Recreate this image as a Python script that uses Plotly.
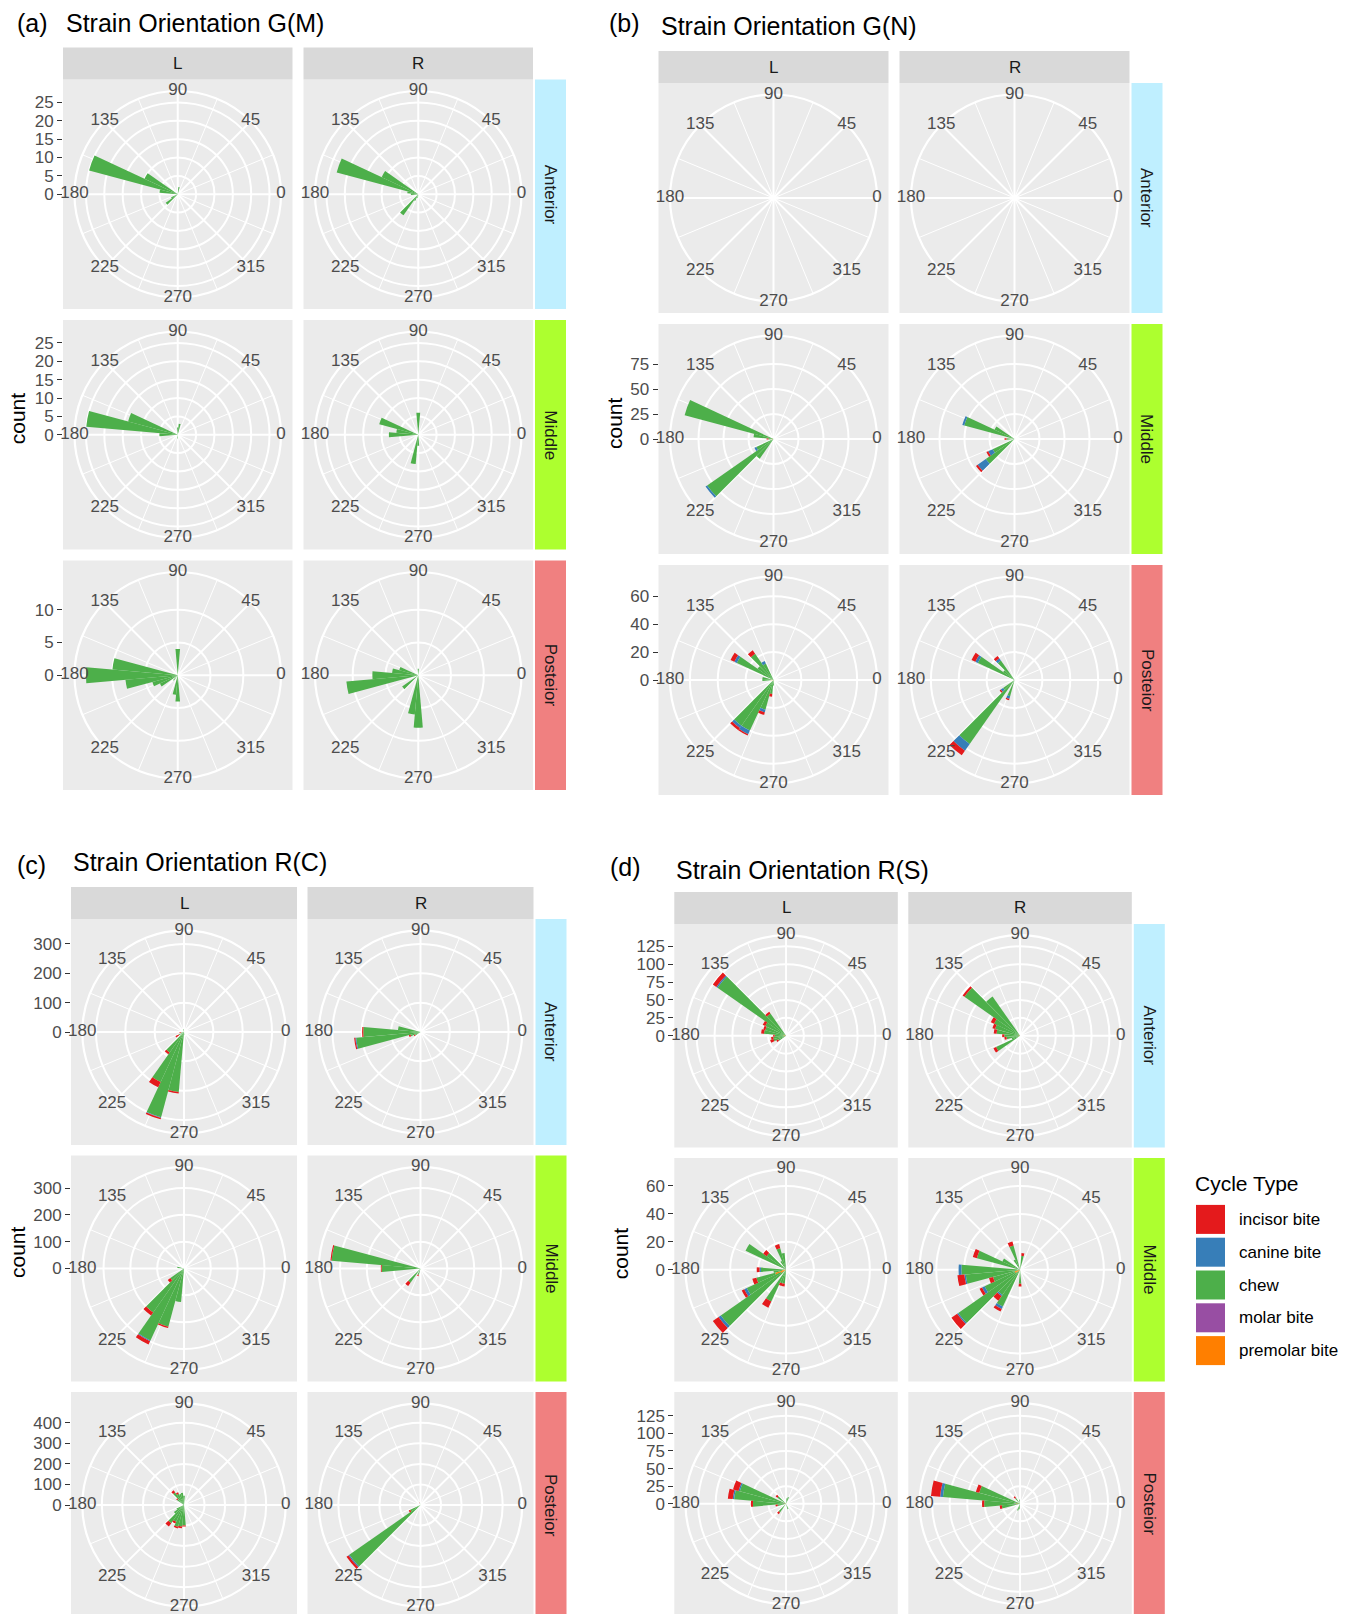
import plotly.graph_objects as go

# ---------------------------------------------------------------- data
CYCLE_TYPES = ["incisor bite", "canine bite", "chew", "molar bite", "premolar bite"]
CYCLE_COLORS = ["#E41A1C", "#377EB8", "#4DAF4A", "#984EA3", "#FF7F00"]
ANGLE_BREAKS = [0, 45, 90, 135, 180, 225, 270, 315]
ANGLE_MINOR = [22.5, 67.5, 112.5, 157.5, 202.5, 247.5, 292.5, 337.5]
BIN_WIDTH = 10
SIDES = ["L", "R"]
REGIONS = ["Anterior", "Middle", "Posteior"]

# each entry: (bin centre deg, incisor, canine, chew, molar, premolar)
GM_ANT_L = [(80, 0, 0, 2, 0, 0), (150, 0, 0, 10, 0, 0), (160, 0, 0, 25, 0, 0),
            (170, 0, 0, 5, 0, 0), (210, 0, 0, 2, 0, 0), (220, 0, 0, 4, 0, 0)]
GM_ANT_R = [(150, 0, 0, 11, 0, 0), (160, 0, 0, 23, 0, 0), (170, 0, 0, 3, 0, 0),
            (180, 0, 0, 2, 0, 0), (230, 0, 0, 7, 0, 0), (240, 0, 0, 2, 0, 0),
            (260, 0, 0, 1, 0, 0)]
GM_MID_L = [(80, 0, 0, 3, 0, 0), (90, 0, 0, 2, 0, 0), (160, 0, 0, 14, 0, 0),
            (170, 0, 0, 25, 0, 0), (180, 0, 0, 5, 0, 0), (270, 0, 0, 1, 0, 0)]
GM_MID_R = [(90, 0, 0, 6, 0, 0), (160, 0, 0, 11, 0, 0), (170, 0, 0, 6, 0, 0),
            (180, 0, 0, 8, 0, 0), (260, 0, 0, 8, 0, 0), (270, 0, 0, 3, 0, 0)]
GM_POST_L = [(90, 0, 0, 4, 0, 0), (170, 0, 0, 10, 0, 0), (180, 0, 0, 14, 0, 0),
             (190, 0, 0, 8, 0, 0), (200, 0, 0, 4, 0, 0), (210, 0, 0, 3, 0, 0),
             (230, 0, 0, 1, 0, 0), (260, 0, 0, 3, 0, 0), (270, 0, 0, 4, 0, 0)]
GM_POST_R = [(90, 0, 0, 1, 0, 0), (160, 0, 0, 3, 0, 0), (170, 0, 0, 4, 0, 0),
             (180, 0, 0, 7, 0, 0), (190, 0, 0, 11, 0, 0), (220, 0, 0, 3, 0, 0),
             (260, 0, 0, 6, 0, 0), (270, 0, 0, 8, 0, 0)]

GN_ANT_L = []
GN_ANT_R = []
GN_MID_L = [(160, 0, 0, 92, 0, 0), (170, 0, 0, 20, 0, 0), (180, 2, 0, 3, 0, 2),
            (210, 0, 2, 19, 0, 0), (220, 0, 2, 81, 0, 0), (230, 0, 0, 24, 0, 0)]
GN_MID_R = [(150, 0, 0, 22, 0, 0), (160, 0, 2, 52, 0, 0), (180, 2, 0, 8, 0, 0),
            (210, 2, 5, 24, 0, 0), (220, 2, 10, 35, 0, 0)]
GN_POST_L = [(120, 0, 2, 13, 0, 0), (130, 3, 0, 23, 0, 0), (140, 0, 0, 14, 0, 0),
             (150, 3, 2, 29, 0, 0), (170, 0, 0, 8, 0, 0), (180, 0, 0, 6, 0, 2),
             (230, 2, 2, 40, 0, 0), (240, 1, 3, 40, 0, 0), (250, 2, 2, 22, 0, 0),
             (260, 2, 0, 10, 0, 0), (270, 0, 0, 3, 0, 1)]
GN_POST_R = [(130, 2, 2, 17, 0, 0), (140, 0, 0, 10, 0, 0), (150, 3, 2, 29, 0, 0),
             (220, 1, 2, 10, 0, 0), (230, 4, 6, 56, 0, 0), (250, 1, 2, 12, 0, 0)]

RC_ANT_L = [(100, 0, 0, 10, 0, 0), (190, 6, 0, 10, 0, 0), (210, 12, 0, 20, 0, 0),
            (230, 8, 0, 85, 0, 0), (240, 20, 0, 188, 0, 0), (250, 5, 2, 301, 0, 0),
            (260, 5, 0, 205, 0, 0), (270, 0, 0, 10, 0, 0)]
RC_ANT_R = [(170, 0, 0, 77, 0, 0), (180, 4, 0, 195, 0, 0), (190, 4, 3, 220, 0, 0),
            (200, 6, 0, 35, 0, 0), (210, 5, 0, 20, 0, 0)]
RC_MID_L = [(170, 0, 0, 25, 0, 0), (220, 12, 0, 62, 0, 0), (230, 14, 0, 200, 0, 0),
            (240, 14, 3, 296, 0, 0), (250, 5, 0, 225, 0, 0), (260, 0, 0, 125, 0, 0)]
RC_MID_R = [(170, 4, 0, 333, 0, 0), (180, 3, 0, 145, 0, 0), (230, 15, 0, 65, 0, 0),
            (250, 5, 0, 25, 0, 0)]
RC_POST_L = [(90, 0, 0, 45, 0, 0), (100, 0, 0, 60, 0, 0), (110, 0, 0, 55, 0, 0),
             (120, 8, 0, 60, 0, 0), (130, 12, 0, 75, 0, 0), (140, 6, 0, 40, 0, 0),
             (210, 0, 0, 40, 0, 0), (220, 0, 0, 60, 0, 0), (230, 20, 0, 108, 0, 0),
             (240, 10, 0, 90, 0, 0), (250, 8, 0, 110, 0, 0), (260, 8, 0, 105, 0, 0),
             (270, 5, 0, 100, 0, 0)]
RC_POST_R = [(110, 3, 2, 8, 0, 0), (210, 8, 0, 55, 0, 0), (220, 12, 5, 423, 0, 0)]

RS_ANT_L = [(130, 3, 0, 38, 0, 0), (140, 6, 2, 117, 0, 0), (150, 4, 0, 32, 0, 0),
            (160, 3, 0, 30, 0, 0), (170, 4, 0, 28, 0, 3), (180, 2, 0, 12, 0, 4),
            (190, 3, 0, 15, 0, 3), (200, 5, 0, 18, 0, 0), (210, 3, 0, 12, 0, 0)]
RS_ANT_R = [(130, 0, 0, 67, 0, 0), (140, 3, 0, 95, 0, 0), (150, 5, 0, 40, 0, 0),
            (160, 4, 0, 36, 0, 0), (170, 4, 0, 33, 0, 0), (180, 3, 0, 18, 1, 3),
            (190, 3, 0, 16, 0, 3), (200, 0, 0, 12, 0, 0), (210, 4, 0, 37, 0, 0)]
RS_MID_L = [(100, 0, 0, 12, 0, 0), (110, 3, 0, 16, 0, 0), (120, 0, 0, 5, 2, 0),
            (140, 3, 0, 17, 0, 0), (150, 0, 0, 32, 0, 0), (180, 2, 1, 18, 0, 0),
            (190, 0, 0, 6, 0, 3), (200, 3, 0, 14, 0, 8), (210, 2, 2, 27, 0, 4),
            (220, 5, 2, 57, 0, 0), (240, 5, 0, 25, 0, 0), (250, 2, 0, 10, 0, 0),
            (260, 2, 0, 10, 0, 0)]
RS_MID_R = [(80, 2, 0, 10, 0, 0), (110, 3, 0, 18, 0, 0), (120, 0, 0, 6, 2, 0),
            (150, 0, 0, 14, 0, 0), (160, 3, 0, 32, 0, 0), (180, 0, 2, 42, 0, 0),
            (190, 5, 1, 39, 0, 0), (200, 3, 0, 16, 0, 4), (210, 2, 2, 24, 0, 4),
            (220, 5, 1, 51, 0, 3), (230, 4, 1, 22, 0, 0), (240, 2, 2, 29, 0, 0),
            (270, 2, 0, 10, 0, 0)]
RS_POST_L = [(70, 0, 0, 10, 0, 0), (80, 0, 0, 8, 0, 0), (140, 3, 0, 15, 0, 0),
             (160, 8, 2, 68, 0, 0), (170, 7, 2, 74, 0, 0), (180, 3, 0, 42, 2, 3),
             (190, 3, 0, 12, 0, 0), (230, 3, 0, 15, 0, 0), (290, 0, 0, 8, 0, 0)]
RS_POST_R = [(100, 0, 0, 6, 0, 0), (130, 3, 0, 10, 0, 0), (160, 5, 0, 60, 0, 0),
             (170, 13, 4, 110, 0, 0), (180, 3, 0, 43, 2, 6), (190, 3, 0, 26, 0, 0),
             (250, 0, 0, 10, 0, 0), (260, 0, 0, 8, 0, 0)]

# radial (count) axis breaks per row
GM_TICKS = [[0, 5, 10, 15, 20, 25], [0, 5, 10, 15, 20, 25], [0, 5, 10]]
GN_TICKS = [[], [0, 25, 50, 75], [0, 20, 40, 60]]
RC_TICKS = [[0, 100, 200, 300], [0, 100, 200, 300], [0, 100, 200, 300, 400]]
RS_TICKS = [[0, 25, 50, 75, 100, 125], [0, 20, 40, 60], [0, 25, 50, 75, 100, 125]]

PANEL_TAGS = ["(a)", "(b)", "(c)", "(d)"]
PANEL_TITLES = ["Strain Orientation G(M)", "Strain Orientation G(N)",
                "Strain Orientation R(C)", "Strain Orientation R(S)"]

# ---------------------------------------------------------------- layout geometry (px)
FIG_W, FIG_H = 1347, 1614
FONT = "Liberation Sans, Arial, Helvetica, sans-serif"
STRIP = 31
REGION_FILL = {"Anterior": "#BFEFFF", "Middle": "#ADFF2F", "Posteior": "#F08080"}

panels = [
    dict(cells=[[GM_ANT_L, GM_ANT_R], [GM_MID_L, GM_MID_R], [GM_POST_L, GM_POST_R]],
         ticks=GM_TICKS, x0=63, y0=79.5, S=229.5, gap=11,
         tag_pos=(14.5, 22.6), title_pos=(64, 22.6), count_x=17.5),
    dict(cells=[[GN_ANT_L, GN_ANT_R], [GN_MID_L, GN_MID_R], [GN_POST_L, GN_POST_R]],
         ticks=GN_TICKS, x0=658.5, y0=83, S=230, gap=11,
         tag_pos=(607, 22.6), title_pos=(658.6, 25.7), count_x=614),
    dict(cells=[[RC_ANT_L, RC_ANT_R], [RC_MID_L, RC_MID_R], [RC_POST_L, RC_POST_R]],
         ticks=RC_TICKS, x0=71, y0=919, S=226, gap=10.5,
         tag_pos=(14.5, 865.4), title_pos=(71, 862.3), count_x=17.5),
    dict(cells=[[RS_ANT_L, RS_ANT_R], [RS_MID_L, RS_MID_R], [RS_POST_L, RS_POST_R]],
         ticks=RS_TICKS, x0=674.3, y0=924, S=223.5, gap=10.5,
         tag_pos=(608, 867.5), title_pos=(674, 869.5), count_x=620.5),
]


def fx(x):
    return x / FIG_W


def fy(y):
    return 1 - y / FIG_H


fig = go.Figure()
shapes, annotations = [], []
layout = {}

cells = []
for pi, p in enumerate(panels):
    for r in range(3):
        totals = [sum(b[1:]) for c in range(2) for b in p["cells"][r][c]]
        row_max = max(totals) if totals else None
        for c in range(2):
            cells.append((pi, r, c, p["cells"][r][c], p["ticks"][r], row_max))


def cell_box(p, r, c):
    left = p["x0"] + c * (p["S"] + p["gap"])
    top = p["y0"] + r * (p["S"] + p["gap"])
    return left, top, left + p["S"], top + p["S"]


def circle_domain(p, r, c):
    l, t, rr, b = cell_box(p, r, c)
    cx, cy = (l + rr) / 2, (t + b) / 2
    R = 0.45 * p["S"]
    return dict(x=[fx(cx - R), fx(cx + R)], y=[fy(cy + R), fy(cy - R)])


def pid(n):
    return "polar" if n == 1 else f"polar{n}"


N = len(cells)
# underlay polars: minor theta grid
for i, (pi, r, c, data, ticks, rmax) in enumerate(cells):
    p = panels[pi]
    n = i + 1
    layout[pid(n)] = dict(
        domain=circle_domain(p, r, c), bgcolor="rgba(0,0,0,0)",
        angularaxis=dict(rotation=0, direction="counterclockwise", tickvals=ANGLE_MINOR,
                         showticklabels=False, ticks="", gridcolor="white", gridwidth=1.1,
                         showline=False, layer="below traces"),
        radialaxis=dict(range=[0, 1], showgrid=False, showticklabels=False, ticks="",
                        showline=False, layer="below traces"),
    )
    fig.add_trace(go.Scatterpolar(r=[0], theta=[0], mode="markers",
                                  marker=dict(size=1, opacity=0), hoverinfo="skip",
                                  showlegend=False, subplot=pid(n)))

# main polars with bars
for i, (pi, r, c, data, ticks, rmax) in enumerate(cells):
    p = panels[pi]
    n = N + i + 1
    outer = rmax * 0.45 / 0.4 if rmax else 1
    layout[pid(n)] = dict(
        domain=circle_domain(p, r, c), bgcolor="rgba(0,0,0,0)",
        barmode="stack", bargap=0,
        angularaxis=dict(rotation=0, direction="counterclockwise", tickvals=ANGLE_BREAKS,
                         showticklabels=False, ticks="", gridcolor="white", gridwidth=2.2,
                         showline=True, linecolor="white", linewidth=2.2,
                         layer="below traces"),
        radialaxis=dict(range=[0, outer], tickvals=ticks, showticklabels=False, ticks="",
                        showline=False, gridcolor="white", gridwidth=2.2,
                        layer="below traces"),
    )
    # stack from centre outward: premolar, molar, chew, canine, incisor
    for k in [4, 3, 2, 1, 0]:
        th = [b[0] for b in data if b[k + 1] > 0]
        rv = [b[k + 1] for b in data if b[k + 1] > 0]
        if not th:
            continue
        fig.add_trace(go.Barpolar(r=rv, theta=th, width=[BIN_WIDTH] * len(th),
                                  name=CYCLE_TYPES[k],
                                  marker=dict(color=CYCLE_COLORS[k], line=dict(width=0)),
                                  showlegend=False, hoverinfo="skip", subplot=pid(n)))
    fig.add_trace(go.Scatterpolar(r=[outer] * len(ANGLE_BREAKS), theta=ANGLE_BREAKS,
                                  text=[str(a) for a in ANGLE_BREAKS], mode="text",
                                  textposition="middle center", cliponaxis=False,
                                  textfont=dict(family=FONT, size=17, color="#4D4D4D"),
                                  hoverinfo="skip", showlegend=False, subplot=pid(n)))

# count axes (left of each row)
k = 0
for pi, p in enumerate(panels):
    for r in range(3):
        ticks = p["ticks"][r]
        totals = [sum(b[1:]) for c in range(2) for b in p["cells"][r][c]]
        if not ticks or not totals:
            continue
        k += 1
        rmax = max(totals)
        outer = rmax * 0.45 / 0.4
        l, t, rr, b = cell_box(p, r, 0)
        dom = circle_domain(p, r, 0)
        xa = "xaxis" if k == 1 else f"xaxis{k}"
        ya = "yaxis" if k == 1 else f"yaxis{k}"
        xr = "x" if k == 1 else f"x{k}"
        yr = "y" if k == 1 else f"y{k}"
        layout[xa] = dict(domain=[fx(l), fx(rr)], range=[0, 1], visible=False,
                          anchor=yr, fixedrange=True)
        layout[ya] = dict(domain=dom["y"], range=[-outer, outer], anchor=xr, side="left",
                          tickvals=ticks, ticktext=[str(v) for v in ticks],
                          ticks="outside", ticklen=5, tickwidth=1.1, tickcolor="#333333",
                          tickfont=dict(family=FONT, size=17, color="#4D4D4D"),
                          showgrid=False, zeroline=False, showline=False, fixedrange=True)
        fig.add_trace(go.Scatter(x=[None], y=[None], xaxis=xr, yaxis=yr,
                                 showlegend=False, hoverinfo="skip"))

# panel backgrounds, strips, titles
for pi, p in enumerate(panels):
    for r in range(3):
        for c in range(2):
            l, t, rr, b = cell_box(p, r, c)
            shapes.append(dict(type="rect", xref="paper", yref="paper", layer="below",
                               x0=fx(l), x1=fx(rr), y0=fy(b), y1=fy(t),
                               fillcolor="#EBEBEB", line=dict(width=0)))
    for c in range(2):
        l, t, rr, b = cell_box(p, 0, c)
        shapes.append(dict(type="rect", xref="paper", yref="paper", layer="below",
                           x0=fx(l), x1=fx(rr), y0=fy(t), y1=fy(t - STRIP - 1),
                           fillcolor="#D9D9D9", line=dict(width=0)))
        annotations.append(dict(text=SIDES[c], xref="paper", yref="paper",
                                x=fx((l + rr) / 2), y=fy(t - (STRIP + 1) / 2),
                                showarrow=False, xanchor="center", yanchor="middle",
                                font=dict(family=FONT, size=17, color="#1A1A1A")))
    for r in range(3):
        l, t, rr, b = cell_box(p, r, 1)
        sx0 = rr + 2
        shapes.append(dict(type="rect", xref="paper", yref="paper", layer="below",
                           x0=fx(sx0), x1=fx(sx0 + STRIP), y0=fy(b), y1=fy(t),
                           fillcolor=REGION_FILL[REGIONS[r]], line=dict(width=0)))
        annotations.append(dict(text=REGIONS[r], xref="paper", yref="paper",
                                x=fx(sx0 + STRIP / 2), y=fy((t + b) / 2), textangle=90,
                                showarrow=False, xanchor="center", yanchor="middle",
                                font=dict(family=FONT, size=17, color="#1A1A1A")))
    annotations.append(dict(text=PANEL_TAGS[pi], xref="paper", yref="paper",
                            x=fx(p["tag_pos"][0]), y=fy(p["tag_pos"][1]),
                            showarrow=False, xanchor="left", yanchor="middle",
                            font=dict(family=FONT, size=25, color="black")))
    annotations.append(dict(text=PANEL_TITLES[pi], xref="paper", yref="paper",
                            x=fx(p["title_pos"][0]), y=fy(p["title_pos"][1]),
                            showarrow=False, xanchor="left", yanchor="middle",
                            font=dict(family=FONT, size=25, color="black")))
    top = p["y0"] - STRIP - 1
    bottom = p["y0"] + 3 * p["S"] + 2 * p["gap"]
    annotations.append(dict(text="count", xref="paper", yref="paper",
                            x=fx(p["count_x"]), y=fy((top + bottom) / 2), textangle=-90,
                            showarrow=False, xanchor="center", yanchor="middle",
                            font=dict(family=FONT, size=21, color="black")))

# legend (drawn as keys + labels)
LEG_X, LEG_TITLE_Y, LEG_Y0, LEG_STEP, KEY = 1196, 1183, 1219.4, 32.8, 29
annotations.append(dict(text="Cycle Type", xref="paper", yref="paper", x=fx(1193),
                        y=fy(LEG_TITLE_Y), showarrow=False, xanchor="left",
                        yanchor="middle", font=dict(family=FONT, size=21, color="black")))
for j, (name, col) in enumerate(zip(CYCLE_TYPES, CYCLE_COLORS)):
    yc = LEG_Y0 + j * LEG_STEP
    shapes.append(dict(type="rect", xref="paper", yref="paper",
                       x0=fx(LEG_X), x1=fx(LEG_X + KEY), y0=fy(yc + KEY / 2),
                       y1=fy(yc - KEY / 2), fillcolor=col, line=dict(width=0)))
    annotations.append(dict(text=name, xref="paper", yref="paper", x=fx(1237), y=fy(yc),
                            showarrow=False, xanchor="left", yanchor="middle",
                            font=dict(family=FONT, size=17, color="black")))

layout.update(dict(
    width=FIG_W, height=FIG_H, autosize=False,
    margin=dict(l=0, r=0, t=0, b=0, pad=0),
    paper_bgcolor="white", plot_bgcolor="rgba(0,0,0,0)",
    showlegend=False, shapes=shapes, annotations=annotations,
    font=dict(family=FONT, color="#4D4D4D"),
))
fig.update_layout(**layout)
fig.write_html("out.html")
